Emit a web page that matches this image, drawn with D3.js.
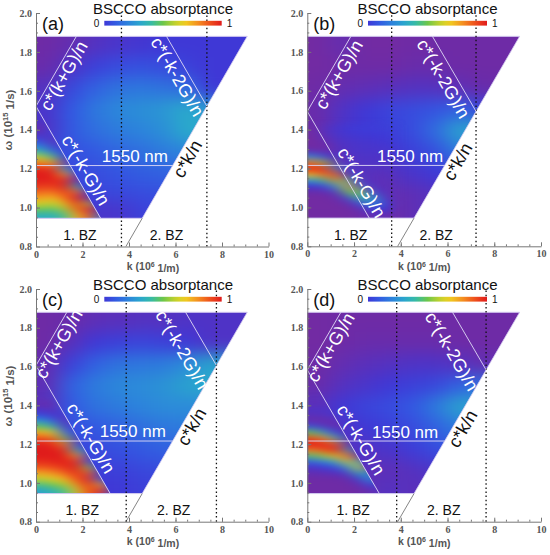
<!DOCTYPE html>
<html>
<head>
<meta charset="utf-8">
<script src="https://cdn.jsdelivr.net/npm/d3@7"></script>
<style>
  body { margin: 0; background: #fff; }
  svg text { font-family: "Liberation Sans", Arial, sans-serif; }
  .tick text { font-family: "Liberation Serif", "Times New Roman", serif; font-weight: bold; fill: #555; font-size: 10px; }
  .tick line, .domain { stroke: #777; }
</style>
</head>
<body>
<svg id="chart" width="550" height="555"></svg>
<script>
// ---- values ----
const kTicks = [0, 2, 4, 6, 8, 10];
const wTicks = [0.8, 1.0, 1.2, 1.4, 1.6, 1.8, 2.0];
const panelIds = ["a", "b", "c", "d"];
const gValues = [7.35, 7.22, 7.76, 7.65];   // grating vector G per panel (10^6 1/m)
const lightSlope = 0.2069;                    // c/n
const heatBottom = 0.945;
const heatTop = 1.88;
const w1550 = 1.216;

// absorptance colour map (percent -> colour)
const colorStops = [0, 3, 7, 12, 20, 30, 40, 48, 56, 64, 72, 82, 92, 100];
const colorHexes = ["#7b2a9d", "#6e2ba6", "#5a30bb", "#3f38d6", "#3358e2", "#2c84dc", "#2aaacb",
                    "#38bca0", "#6cc64a", "#b8d030", "#f0d020", "#f49020", "#ee4a1c", "#e01b1b"];

// coarse grid over the whole field: k edges, omega edges (top -> bottom), rows of absorptance %
const bgK = [0, 1, 2, 3, 4, 5, 6, 7, 8, 9.2];
const bgW = [1.89, 1.78, 1.67, 1.56, 1.45, 1.34, 1.23, 1.12, 1.03, 0.94];

const bgRowsA = [
  [3, 5, 8, 10, 11, 12, 12, 12, 12],
  [4, 9, 14, 17, 18, 17, 14, 12, 12],
  [8, 16, 22, 26, 27, 26, 24, 12, 12],
  [10, 20, 27, 31, 33, 35, 40, 35, 35],
  [9, 20, 25, 28, 30, 33, 40, 40, 40],
  [16, 18, 20, 23, 25, 28, 30, 30, 30],
  [15, 16, 17, 19, 21, 22, 22, 22, 22],
  [14, 14, 15, 16, 17, 18, 18, 18, 18],
  [12, 12, 10, 10, 14, 15, 15, 15, 15]
];
const bgRowsB = [
  [2, 5, 2, 2, 3, 3, 3, 3, 3],
  [2, 3, 3, 3, 4, 4, 3, 3, 3],
  [3, 5, 6, 7, 8, 8, 6, 4, 4],
  [4, 9, 12, 15, 17, 19, 22, 15, 15],
  [4, 10, 12, 14, 17, 25, 38, 38, 38],
  [15, 8, 9, 11, 14, 18, 28, 28, 28],
  [60, 30, 7, 8, 10, 12, 14, 14, 14],
  [5, 30, 15, 5, 6, 8, 9, 9, 9],
  [2, 2, 8, 3, 6, 8, 8, 8, 8]
];
const bgRowsC = [
  [3, 4, 6, 7, 8, 8, 9, 9, 9],
  [3, 7, 12, 14, 15, 14, 12, 9, 9],
  [5, 14, 22, 26, 27, 28, 32, 38, 38],
  [6, 22, 28, 31, 32, 34, 38, 40, 40],
  [8, 20, 26, 28, 30, 32, 32, 32, 32],
  [16, 17, 20, 22, 25, 27, 28, 28, 28],
  [15, 16, 16, 18, 20, 22, 22, 22, 22],
  [14, 14, 14, 14, 16, 17, 17, 17, 17],
  [12, 12, 12, 12, 14, 14, 14, 14, 14]
];
const bgRowsD = [
  [2, 3, 3, 3, 3, 3, 3, 3, 3],
  [2, 3, 4, 4, 4, 4, 3, 3, 3],
  [3, 5, 7, 8, 9, 9, 8, 5, 5],
  [4, 8, 10, 12, 14, 16, 22, 25, 25],
  [8, 12, 15, 17, 20, 28, 38, 38, 38],
  [8, 9, 12, 14, 17, 22, 28, 28, 28],
  [7, 8, 9, 10, 13, 17, 20, 20, 20],
  [5, 6, 7, 6, 8, 10, 12, 12, 12],
  [5, 5, 6, 8, 7, 8, 8, 8, 8]
];

// fine grid over the lower-left resonance band: columns of absorptance % (top -> bottom)
const bandK = [0, 0.5, 1, 1.5, 2, 2.5, 3, 3.5];
const bandW = [1.425, 1.395, 1.365, 1.335, 1.305, 1.275, 1.245, 1.215, 1.185,
               1.155, 1.125, 1.095, 1.065, 1.035, 1.005, 0.975, 0.945];

const bandColsA = [
  [4, 8, 15, 28, 45, 65, 85, 97, 100, 99, 95, 88, 80, 68, 55, 42],
  [15, 13, 5, 8, 22, 50, 78, 95, 100, 99, 93, 85, 75, 64, 52, 42],
  [18, 17, 17, 16, 15, 10, 5, 40, 78, 96, 100, 96, 88, 75, 62, 50],
  [20, 19, 19, 18, 17, 16, 15, 14, 12, 6, 45, 85, 100, 98, 88, 75],
  [21, 20, 20, 19, 18, 17, 16, 15, 14, 14, 13, 12, 10, 65, 98, 92],
  [22, 21, 21, 20, 19, 18, 17, 16, 15, 14, 13, 12, 11, 10, 9, 30],
  [24, 23, 22, 21, 20, 19, 18, 17, 16, 15, 14, 13, 12, 10, 9, 8]
];
const bandColsB = [
  [2, 2, 2, 2, 5, 32, 85, 100, 75, 36, 11, 4, 2, 2, 2, 2],
  [8, 7, 5, 2, 3, 15, 60, 98, 90, 50, 15, 4, 2, 2, 2, 2],
  [10, 10, 9, 8, 7, 6, 6, 35, 90, 85, 40, 10, 3, 2, 2, 2],
  [12, 11, 10, 9, 9, 8, 8, 7, 12, 50, 80, 55, 15, 4, 2, 2],
  [13, 12, 11, 10, 10, 9, 9, 8, 8, 8, 20, 60, 50, 15, 4, 3],
  [13, 12, 11, 10, 10, 9, 9, 8, 7, 7, 7, 15, 38, 35, 12, 5],
  [14, 13, 12, 11, 10, 9, 9, 8, 7, 6, 6, 6, 8, 15, 12, 5]
];
const bandColsC = [
  [5, 9, 16, 35, 55, 78, 92, 99, 100, 100, 97, 90, 78, 65, 50, 38],
  [4, 6, 10, 22, 45, 70, 88, 98, 100, 100, 98, 92, 82, 70, 56, 44],
  [20, 18, 10, 4, 8, 25, 55, 82, 96, 100, 100, 96, 88, 76, 62, 50],
  [22, 21, 20, 19, 18, 15, 6, 15, 45, 78, 95, 100, 98, 92, 80, 68],
  [23, 22, 21, 20, 19, 18, 17, 16, 16, 10, 20, 60, 88, 98, 100, 92],
  [24, 23, 22, 21, 20, 19, 18, 17, 16, 15, 14, 13, 12, 25, 75, 95],
  [25, 24, 23, 22, 21, 20, 19, 18, 17, 16, 15, 14, 12, 10, 9, 15]
];
const bandColsD = [
  [6, 9, 7, 4, 18, 55, 92, 100, 85, 52, 22, 9, 5, 3, 3, 3],
  [6, 9, 8, 4, 8, 35, 80, 100, 92, 62, 30, 12, 6, 3, 3, 3],
  [8, 10, 10, 6, 4, 12, 45, 88, 100, 78, 42, 16, 7, 3, 3, 3],
  [12, 13, 12, 10, 8, 7, 6, 8, 40, 88, 75, 35, 10, 4, 3, 3],
  [14, 14, 13, 12, 10, 9, 8, 8, 8, 8, 40, 70, 45, 12, 4, 3],
  [15, 14, 13, 12, 11, 10, 9, 8, 7, 7, 7, 8, 25, 40, 15, 5],
  [16, 15, 14, 13, 12, 11, 10, 9, 8, 7, 7, 7, 7, 8, 10, 8]
];

const bgRows = [bgRowsA, bgRowsB, bgRowsC, bgRowsD];
const bandCols = [bandColsA, bandColsB, bandColsC, bandColsD];

// ---- layout (pixels) ----
const layout = [
  { left: 36, right: 268.5, top: 13, bottom: 246.5, cb: [104.3, 221.7], yTitle: true, bandInTriangle: true },
  { left: 307.3, right: 541, top: 13, bottom: 246.3, cb: [368, 487], yTitle: false, bandInTriangle: false },
  { left: 36, right: 268.5, top: 289, bottom: 521.7, cb: [104.3, 221.7], yTitle: true, bandInTriangle: true },
  { left: 307.3, right: 541, top: 289, bottom: 521.7, cb: [368, 487], yTitle: false, bandInTriangle: true }
];
// label placement: fraction along each folded line + pixel offset from it
const labelSpots = [
  { kG: 0.50, mkG: 0.62, mk2G: [0.50, 11], ckW: 1.275, nm: [2.83, 1.234] },
  { kG: 0.55, mkG: 0.72, mk2G: [0.515, 12], ckW: 1.26, nm: [2.98, 1.236] },
  { kG: 0.49, mkG: 0.61, mk2G: [0.50, 22], ckW: 1.314, nm: [2.74, 1.239] },
  { kG: 0.47, mkG: 0.61, mk2G: [0.50, 20.5], ckW: 1.304, nm: [2.77, 1.23] }
];

const svg = d3.select("#chart");
const defs = svg.append("defs");
const color = d3.scaleLinear().domain(colorStops).range(colorHexes).clamp(true);

function addBlur(id, dev) {
  defs.append("filter").attr("id", id)
    .attr("filterUnits", "userSpaceOnUse")
    .attr("x", 0).attr("y", 0).attr("width", 550).attr("height", 555)
    .attr("color-interpolation-filters", "sRGB")
    .append("feGaussianBlur").attr("stdDeviation", dev);
}
addBlur("blurBg", "10 8");
addBlur("blurBand", "8 3");

const grad = defs.append("linearGradient").attr("id", "cbGrad");
d3.range(0, 1.0001, 0.05).forEach(t => {
  grad.append("stop").attr("offset", t).attr("stop-color", color(12 + 88 * t));
});

function drawPanel(p, i) {
  const x = d3.scaleLinear().domain([0, 10]).range([p.left, p.right]);
  const y = d3.scaleLinear().domain([0.8, 2.0]).range([p.bottom, p.top]);
  const G = gValues[i], s = lightSlope;
  const g = svg.append("g").attr("class", "panel-" + panelIds[i]);
  const pt = (k, w) => x(k) + "," + y(w);
  const spots = labelSpots[i];

  const clipId = "trap-" + panelIds[i];
  defs.append("clipPath").attr("id", clipId).append("polygon")
    .attr("points", [pt(0, heatBottom), pt(heatBottom / s, heatBottom),
                     pt(heatTop / s, heatTop), pt(0, heatTop)].join(" "));
  const triId = "tri-" + panelIds[i];
  defs.append("clipPath").attr("id", triId).append("polygon")
    .attr("points", [pt(0, heatBottom), pt(G - heatBottom / s, heatBottom), pt(0, s * G)].join(" "));

  // coarse field
  const pad = 26;
  const bgCells = [];
  bgRows[i].forEach((row, r) => row.forEach((v, c) => bgCells.push({ r, c, v })));
  const nR = bgW.length - 2, nC = bgK.length - 2;
  g.append("g").attr("clip-path", `url(#${clipId})`).attr("filter", "url(#blurBg)")
    .selectAll("rect").data(bgCells).join("rect")
    .attr("x", d => x(bgK[d.c]) - (d.c === 0 ? pad : 0))
    .attr("y", d => y(bgW[d.r]) - (d.r === 0 ? pad : 0))
    .attr("width", d => x(bgK[d.c + 1]) - x(bgK[d.c]) + (d.c === 0 ? pad : 0) + (d.c === nC ? pad : 0) + 0.6)
    .attr("height", d => y(bgW[d.r + 1]) - y(bgW[d.r]) + (d.r === 0 ? pad : 0) + (d.r === nR ? pad : 0) + 0.6)
    .attr("fill", d => color(d.v));

  // fine band field
  const bandCells = [];
  bandCols[i].forEach((col, c) => col.forEach((v, r) => bandCells.push({ r, c, v })));
  const bR = bandW.length - 2;
  g.append("g").attr("clip-path", `url(#${clipId})`)
    .append("g").attr("clip-path", p.bandInTriangle ? `url(#${triId})` : null)
    .attr("filter", "url(#blurBand)")
    .selectAll("rect").data(bandCells).join("rect")
    .attr("x", d => x(bandK[d.c]) - (d.c === 0 ? pad : 0))
    .attr("y", d => y(bandW[d.r]))
    .attr("width", d => x(bandK[d.c + 1]) - x(bandK[d.c]) + (d.c === 0 ? pad : 0) + 0.6)
    .attr("height", d => y(bandW[d.r + 1]) - y(bandW[d.r]) + (d.r === bR ? pad : 0) + 0.6)
    .attr("fill", d => color(d.v));

  // field edges
  const edge = "#d4ccf0";
  const line = (k1, w1, k2, w2, stroke, width, dash) => g.append("line")
    .attr("x1", x(k1)).attr("y1", y(w1)).attr("x2", x(k2)).attr("y2", y(w2))
    .attr("stroke", stroke).attr("stroke-width", width)
    .attr("stroke-dasharray", dash || null);
  line(0, heatTop, heatTop / s, heatTop, edge, 1);
  line(0, heatBottom, heatBottom / s, heatBottom, edge, 1);
  line(heatBottom / s, heatBottom, heatTop / s, heatTop, edge, 0.8);

  // light line below the field
  line(0.8 / s, 0.8, heatBottom / s, heatBottom, "#777", 0.9);

  // Brillouin zone boundaries
  [G / 2, G].forEach(k => line(k, 0.8, k, 2.0, "#111", 1.3, "1.5,2.6"));

  // folded light lines and 1550 nm
  const white = "#e0daf6";
  line(0, s * G, heatTop / s - G, heatTop, white, 0.9);
  line(0, s * G, G - heatBottom / s, heatBottom, white, 0.9);
  line(2 * G - heatTop / s, heatTop, G, s * G, white, 0.9);
  line(0, w1550, w1550 / s, w1550, white, 0.9);

  // rotated labels, placed at a point on a line and pushed off it
  const angR = Math.atan((s * (p.bottom - p.top) / 1.2) / ((p.right - p.left) / 10));
  const ang = angR * 180 / Math.PI;
  const sn = Math.sin(angR), cs = Math.cos(angR);
  const along = (k1, w1, k2, w2, f) => [x(k1) + (x(k2) - x(k1)) * f, y(w1) + (y(w2) - y(w1)) * f];
  const rotLabel = (xy, nx, ny, off, str, a, fill) => g.append("text")
    .attr("transform", `translate(${xy[0] + nx * off},${xy[1] + ny * off}) rotate(${a})`)
    .attr("text-anchor", "middle").attr("dominant-baseline", "central")
    .attr("font-size", 18).attr("fill", fill).text(str);

  rotLabel(along(0, s * G, heatTop / s - G, heatTop, spots.kG), sn, cs, 9, "c*(k+G)/n", -ang, "#fff");
  rotLabel(along(0, s * G, G - heatBottom / s, heatBottom, spots.mkG), sn, -cs, 11, "c*(-k-G)/n", ang, "#fff");
  rotLabel(along(G, s * G, 2 * G - heatTop / s, heatTop, spots.mk2G[0]), -sn, cs, spots.mk2G[1], "c*(-k-2G)/n", ang, "#fff");
  rotLabel([x(spots.ckW / s), y(spots.ckW)], sn, cs, 9.5, "c*k/n", -ang, "#111");

  g.append("text").attr("x", x(spots.nm[0])).attr("y", y(spots.nm[1]))
    .attr("font-size", 17).attr("fill", "#fff").text("1550 nm");

  g.append("text").attr("x", x(G / 4 + 0.05)).attr("y", y(0.833))
    .attr("text-anchor", "middle").attr("font-size", 14).attr("fill", "#111").text("1. BZ");
  g.append("text").attr("x", x(3 * G / 4 + 0.1)).attr("y", y(0.833))
    .attr("text-anchor", "middle").attr("font-size", 14).attr("fill", "#111").text("2. BZ");

  // axes
  const xAx = g.append("g").attr("transform", `translate(0,${p.bottom})`)
    .call(d3.axisBottom(x).tickValues(kTicks).tickSize(-4).tickSizeOuter(0).tickPadding(4));
  g.append("g").attr("transform", `translate(0,${p.bottom})`)
    .call(d3.axisBottom(x).tickValues(d3.range(0.5, 10, 0.5)).tickSize(-2).tickFormat(""))
    .call(a => a.select(".domain").remove());
  const yAx = g.append("g").attr("transform", `translate(${p.left},0)`)
    .call(d3.axisLeft(y).tickValues(wTicks).tickFormat(d3.format(".1f")).tickSize(-4).tickSizeOuter(0).tickPadding(4));
  g.append("g").attr("transform", `translate(${p.left},0)`)
    .call(d3.axisLeft(y).tickValues(d3.range(0.85, 2.0, 0.05)).tickSize(-2).tickFormat(""))
    .call(a => a.select(".domain").remove());
  [xAx, yAx].forEach(a => a.selectAll(".tick line").attr("stroke", "#777"));

  const serif = "Liberation Serif, Times New Roman, serif";
  const xt = g.append("text").attr("x", p.left + 117).attr("y", p.bottom + 23.5)
    .attr("text-anchor", "middle").attr("font-family", serif).attr("font-weight", "bold")
    .attr("font-size", 10.5).attr("fill", "#555");
  xt.append("tspan").text("k (10");
  xt.append("tspan").attr("dy", "-0.45em").attr("font-size", 7).text("6");
  xt.append("tspan").attr("dy", "0.45em").text(" 1/m)");

  if (p.yTitle) {
    const yt = g.append("text").attr("transform", `translate(8,${p.top + 107}) rotate(-90)`)
      .attr("text-anchor", "middle").attr("dominant-baseline", "central")
      .attr("font-family", serif).attr("font-weight", "bold")
      .attr("font-size", 11.5).attr("fill", "#555");
    yt.append("tspan").text("\u03c9 (10");
    yt.append("tspan").attr("dy", "-0.45em").attr("font-size", 7.5).text("15");
    yt.append("tspan").attr("dy", "0.45em").text(" 1/s)");
  }

  // panel tag and colour bar
  g.append("text").attr("x", p.left + 6).attr("y", p.top + 17)
    .attr("font-size", 18).attr("fill", "#111").text("(" + panelIds[i] + ")");
  const cbMid = (p.cb[0] + p.cb[1]) / 2;
  g.append("text").attr("x", cbMid).attr("y", p.top + 1.3)
    .attr("text-anchor", "middle").attr("font-size", 15).attr("fill", "#111").text("BSCCO absorptance");
  g.append("rect").attr("x", p.cb[0]).attr("y", p.top + 7.8)
    .attr("width", p.cb[1] - p.cb[0]).attr("height", 4.8).attr("fill", "url(#cbGrad)");
  g.append("text").attr("x", p.cb[0] - 5).attr("y", p.top + 14.3)
    .attr("text-anchor", "end").attr("font-size", 10).attr("fill", "#111").text("0");
  g.append("text").attr("x", p.cb[1] + 5).attr("y", p.top + 14.3)
    .attr("font-size", 10).attr("fill", "#111").text("1");
}

layout.forEach(drawPanel);
</script>
</body>
</html>
